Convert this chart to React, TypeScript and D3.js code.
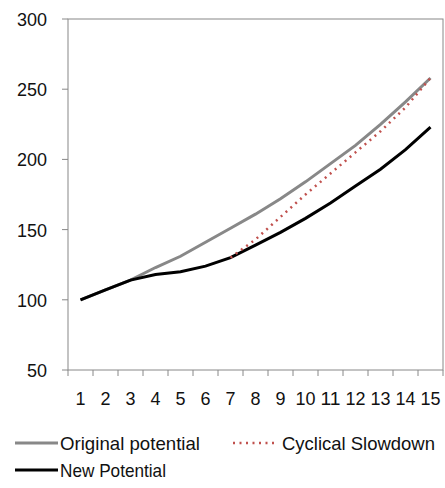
import React from "react";
import * as d3 from "d3";

const years = [1,2,3,4,5,6,7,8,9,10,11,12,13,14,15];
const original = [100,107,114,123,131,141,151,161,172,184,197,210,225,241,258];
const newPot = [100,107,114,118,120,124,130,139,148,158,169,181,193,207,223];
const cycX = [7,8,9,10,11,12,13,14,15];
const cyclical = [130,143,159,175,190,205,220,237,258];
const yTicks = [50,100,150,200,250,300];

export default function App() {
  const x = d3.scaleLinear().domain([0.5,15.5]).range([68,443]);
  const y = d3.scaleLinear().domain([50,300]).range([370,19]);
  const line = d3.line<[number,number]>().x(d=>x(d[0])).y(d=>y(d[1]));
  const font = "'Liberation Sans', Arial, sans-serif";
  const bounds = d3.range(0.5, 16, 1);
  return (
    <svg width={445} height={488} style={{position:"absolute",left:0,top:0}} fontFamily={font} fontSize={19} fill="#111">
      <rect x={68} y={19} width={375} height={351} fill="none" stroke="#888" />
      {yTicks.map(t=>(
        <g key={t}>
          <line x1={62} x2={68} y1={y(t)} y2={y(t)} stroke="#888"/>
          <text x={47} y={y(t)+7} textAnchor="end" textLength={t>=100?30:20} lengthAdjust="spacingAndGlyphs">{t}</text>
        </g>
      ))}
      {bounds.map(b=>(
        <line key={b} x1={x(b)} x2={x(b)} y1={370} y2={376} stroke="#888"/>
      ))}
      {years.map(t=>(
        <text key={t} x={x(t)-(t>=10?10:5)} y={405} textLength={t>=10?20:10} lengthAdjust="spacingAndGlyphs">{t}</text>
      ))}
      <path d={line(years.map((t,i)=>[t,original[i]]))!} fill="none" stroke="#888" strokeWidth={3}/>
      <path d={line(years.map((t,i)=>[t,newPot[i]]))!} fill="none" stroke="#000" strokeWidth={3}/>
      <path d={line(cycX.map((t,i)=>[t,cyclical[i]]))!} fill="none" stroke="#c0504d" strokeWidth={2.5} strokeDasharray="2,4.5"/>
      <line x1={15} x2={58} y1={443} y2={443} stroke="#888" strokeWidth={3}/>
      <text x={60} y={450} textLength={140} lengthAdjust="spacingAndGlyphs">Original potential</text>
      <line x1={233} x2={274} y1={443} y2={443} stroke="#c0504d" strokeWidth={2.5} strokeDasharray="2,4.5"/>
      <text x={282} y={450} textLength={153} lengthAdjust="spacingAndGlyphs">Cyclical Slowdown</text>
      <line x1={15} x2={58} y1={470} y2={470} stroke="#000" strokeWidth={3}/>
      <text x={60} y={477} textLength={106} lengthAdjust="spacingAndGlyphs">New Potential</text>
    </svg>
  );
}
